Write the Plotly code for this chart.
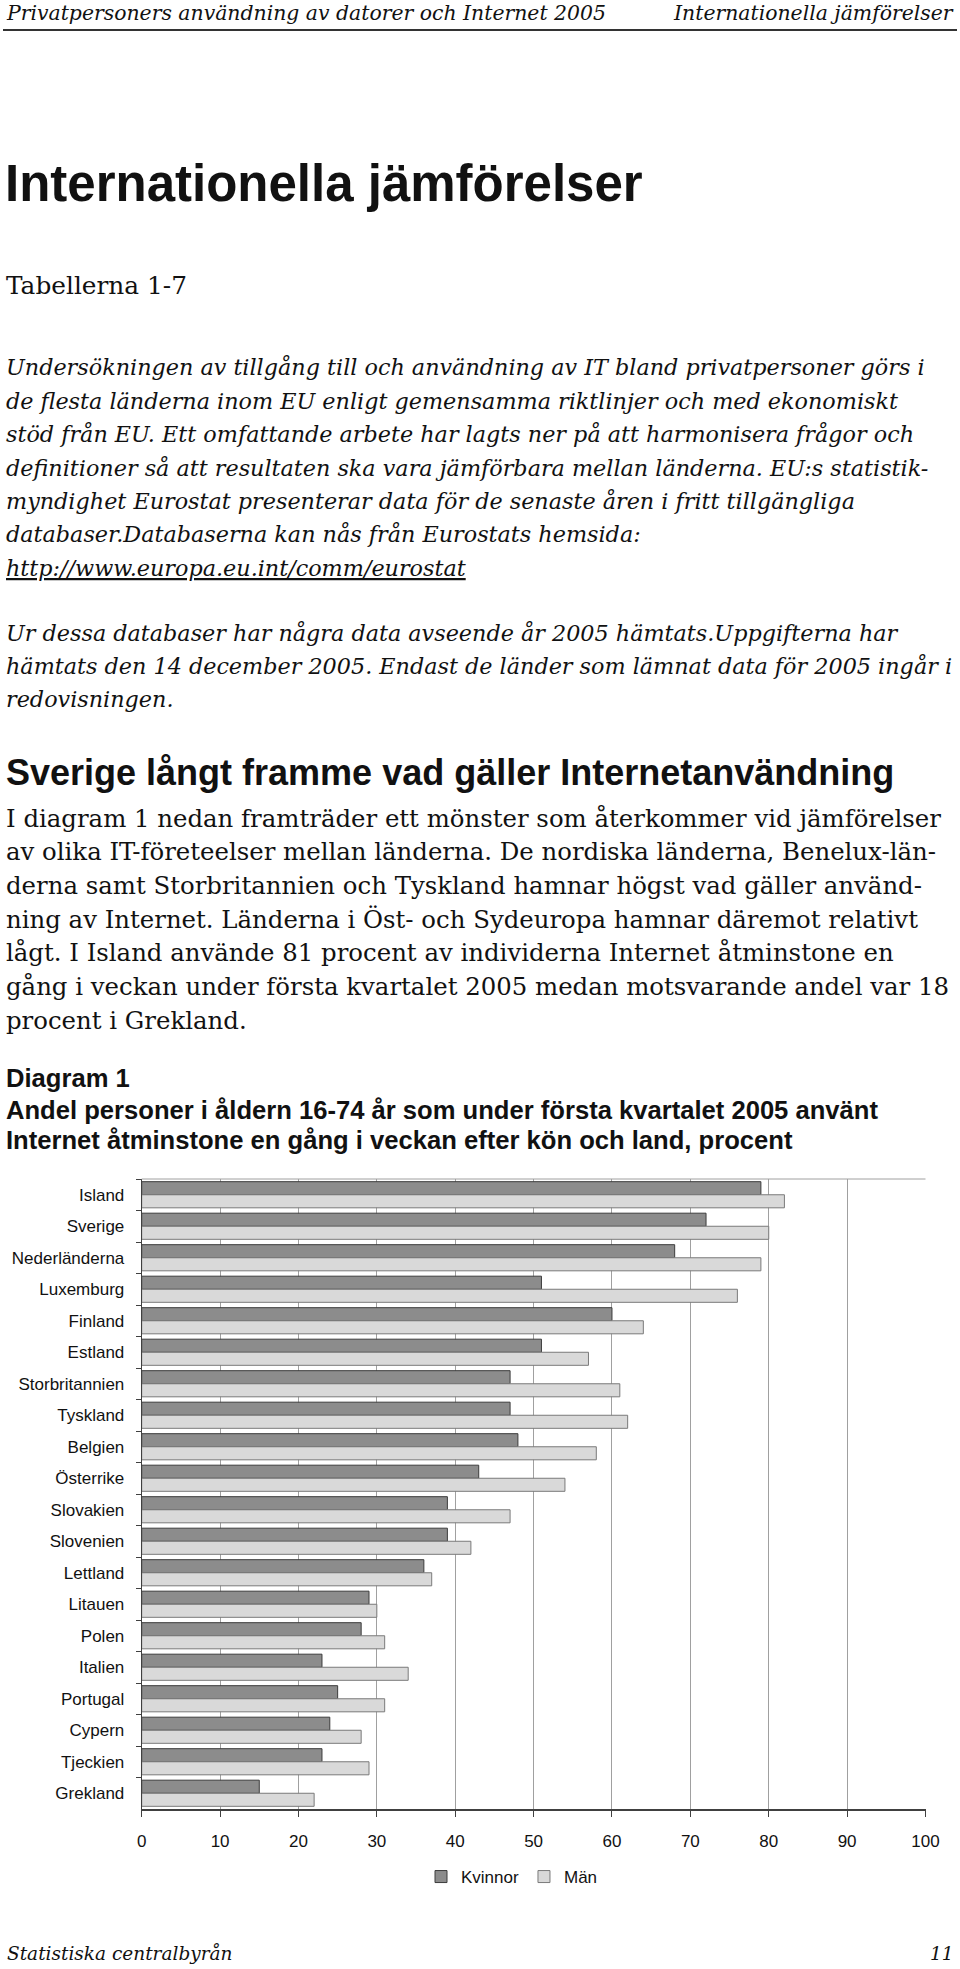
import plotly.graph_objects as go

W, H = 960, 1969

# ---------------- data ----------------
countries = ["Island", "Sverige", "Nederländerna", "Luxemburg", "Finland", "Estland",
             "Storbritannien", "Tyskland", "Belgien", "Österrike", "Slovakien",
             "Slovenien", "Lettland", "Litauen", "Polen", "Italien", "Portugal",
             "Cypern", "Tjeckien", "Grekland"]
kvinnor = [79, 72, 68, 51, 60, 51, 47, 47, 48, 43, 39, 39, 36, 29, 28, 23, 25, 24, 23, 15]
man = [82, 80, 79, 76, 64, 57, 61, 62, 58, 54, 47, 42, 37, 30, 31, 34, 31, 28, 29, 22]
x_ticks = [0, 10, 20, 30, 40, 50, 60, 70, 80, 90, 100]

para1 = [
    "Undersökningen av tillgång till och användning av IT bland privatpersoner görs i",
    "de flesta länderna inom EU enligt gemensamma riktlinjer och med ekonomiskt",
    "stöd från EU. Ett omfattande arbete har lagts ner på att harmonisera frågor och",
    "definitioner så att resultaten ska vara jämförbara mellan länderna. EU:s statistik-",
    "myndighet Eurostat presenterar data för de senaste åren i fritt tillgängliga",
    "databaser.Databaserna kan nås från Eurostats hemsida:",
    "<u>http://www.europa.eu.int/comm/eurostat</u>",
]
para2 = [
    "Ur dessa databaser har några data avseende år 2005 hämtats.Uppgifterna har",
    "hämtats den 14 december 2005. Endast de länder som lämnat data för 2005 ingår i",
    "redovisningen.",
]
body = [
    "I diagram 1 nedan framträder ett mönster som återkommer vid jämförelser",
    "av olika IT-företeelser mellan länderna. De nordiska länderna, Benelux-län-",
    "derna samt Storbritannien och Tyskland hamnar högst vad gäller använd-",
    "ning av Internet. Länderna i Öst- och Sydeuropa hamnar däremot relativt",
    "lågt. I Island använde 81 procent av individerna Internet åtminstone en",
    "gång i veckan under första kvartalet 2005 medan motsvarande andel var 18",
    "procent i Grekland.",
]

SERIF = "DejaVu Serif, Liberation Serif, serif"
SANS = "Liberation Sans, Arial, sans-serif"
CH = 17  # chart text size

# ---------------- figure ----------------
fig = go.Figure()
fig.add_trace(go.Bar(
    y=countries, x=kvinnor, name="Kvinnor", orientation="h",
    marker=dict(color="#8c8c8c", line=dict(color="#3c3c3c", width=1)),
))
fig.add_trace(go.Bar(
    y=countries, x=man, name="Män", orientation="h",
    marker=dict(color="#d9d9d9", line=dict(color="#7a7a7a", width=1)),
))


def py(p):
    return 1 - p / H


def px(p):
    return p / W


annotations = []


def ann(text, x, y, size, family, anchor="left", color="#111111"):
    annotations.append(dict(
        text=text, x=px(x), y=py(y), xref="paper", yref="paper",
        xanchor=anchor, yanchor="middle", showarrow=False,
        font=dict(size=size, family=family, color=color), align=anchor,
    ))


# header
ann("<i>Privatpersoners användning av datorer och Internet 2005</i>", 4, 13, 20.4, SERIF)
ann("<i>Internationella jämförelser</i>", 956, 13, 20.4, SERIF, anchor="right")
# title
ann("<b>Internationella jämförelser</b>", 3, 183, 51, SANS)
ann("Tabellerna 1-7", 4, 286, 24.8, SERIF)

y0 = 367
for i, line in enumerate(para1):
    ann("<i>" + line + "</i>", 4, y0 + i * 33.5, 22.3, SERIF)
for i, line in enumerate(para2):
    ann("<i>" + line + "</i>", 4, 633 + i * 33, 22.3, SERIF)

ann("<b>Sverige långt framme vad gäller Internetanvändning</b>", 4, 773, 36, SANS)
for i, line in enumerate(body):
    ann(line, 4, 818 + i * 33.7, 24.4, SERIF)

ann("<b>Diagram 1</b>", 4, 1078, 25.6, SANS)
ann("<b>Andel personer i åldern 16-74 år som under första kvartalet 2005 använt</b>", 4, 1110, 25.6, SANS)
ann("<b>Internet åtminstone en gång i veckan efter kön och land, procent</b>", 4, 1140, 25.6, SANS)

# footer
ann("<i>Statistiska centralbyrån</i>", 5, 1953, 18.5, SERIF)
ann("<i>11</i>", 956, 1953, 18.5, SERIF, anchor="right")

shapes = [
    dict(type="line", xref="paper", yref="paper", x0=px(3), x1=px(957), y0=py(30), y1=py(30),
         line=dict(color="#333333", width=2)),
    # top border of the plot area
    dict(type="line", xref="paper", yref="paper", x0=px(141.7), x1=px(925.5), y0=py(1179), y1=py(1179),
         line=dict(color="#a0a0a0", width=1)),
]

fig.update_layout(
    width=W, height=H,
    margin=dict(l=0, r=0, t=0, b=0, autoexpand=False),
    paper_bgcolor="white", plot_bgcolor="white",
    barmode="group", bargap=0.17, bargroupgap=0.0,
    showlegend=True,
    legend=dict(orientation="h", x=px(512), y=py(1877), xanchor="center", yanchor="middle",
                font=dict(size=CH, family=SANS, color="#111111"),
                itemwidth=30, traceorder="normal", bgcolor="rgba(0,0,0,0)"),
    annotations=annotations,
    shapes=shapes,
    font=dict(family=SANS, color="#111111"),
)

fig.update_xaxes(
    domain=[px(141.7), px(925.5)],
    range=[0, 100], tickvals=x_ticks, ticktext=[str(v) for v in x_ticks],
    showgrid=True, gridcolor="#a0a0a0", gridwidth=1,
    showline=True, linecolor="#404040", linewidth=1.5,
    ticks="outside", ticklen=6, tickcolor="#404040",
    tickfont=dict(size=CH, family=SANS, color="#111111"),
    ticklabelstandoff=10, zeroline=False, fixedrange=True, automargin=False,
)
fig.update_yaxes(
    domain=[py(1809), py(1179)],
    categoryorder="array", categoryarray=countries, autorange="reversed",
    showline=True, linecolor="#404040", linewidth=1,
    ticks="outside", ticklen=5, tickcolor="#404040", tickson="boundaries",
    tickfont=dict(size=CH, family=SANS, color="#111111"),
    ticklabelstandoff=13, showgrid=False, fixedrange=True, automargin=False,
)

fig.write_html("out.html", config={"displayModeBar": False, "staticPlot": True},
               post_script="document.body.style.margin='0px';")
